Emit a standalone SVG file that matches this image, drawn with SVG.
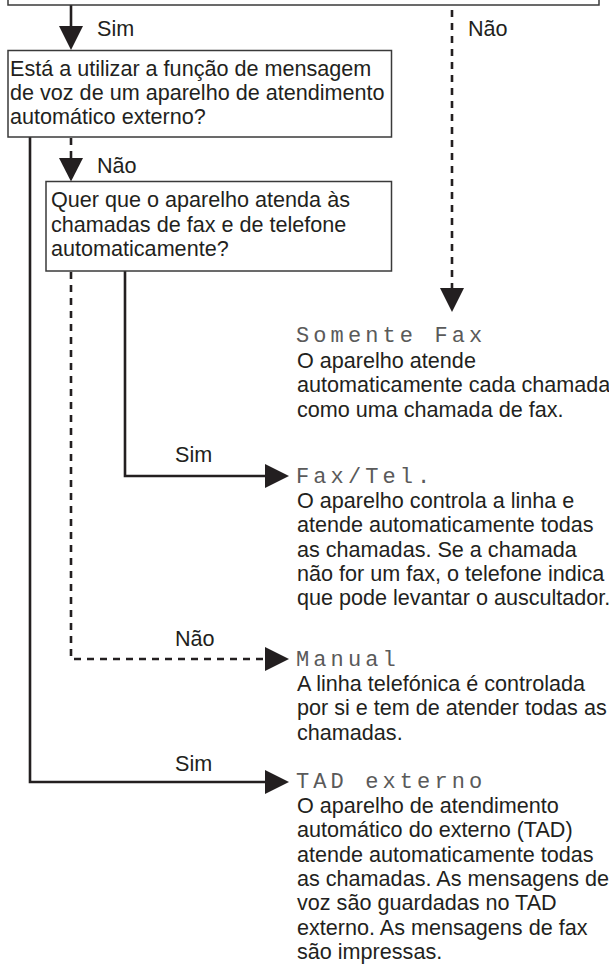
<svg xmlns="http://www.w3.org/2000/svg" width="609" height="974" viewBox="0 0 609 974">
<style>
.box{fill:#fff;stroke:#3a3a3a;stroke-width:1.5}
.ln{fill:none;stroke:#231f20;stroke-width:2.6}
.dash{fill:none;stroke:#231f20;stroke-width:2.6;stroke-dasharray:7 6}
.head{fill:#231f20}
.t{font-family:"Liberation Sans",Arial,Helvetica,sans-serif;font-size:21.6px;fill:#231f20}
.lcd{font-family:"Liberation Mono","DejaVu Sans Mono",monospace;font-size:22px;letter-spacing:4.1px;fill:#5a5a5a}
</style>
<rect width="609" height="974" fill="#fff"/>
<g id="connectors">
<line class="ln" x1="71" y1="5" x2="71" y2="28"/>
<polygon class="head" points="59,26 83,26 71,50"/>
<line class="dash" x1="452" y1="10" x2="452" y2="290"/>
<polygon class="head" points="440,288 464,288 452,312"/>
<line class="dash" x1="71" y1="138" x2="71" y2="160"/>
<polygon class="head" points="59,158 83,158 71,181.5"/>
<path class="ln" d="M125 271 V476 H267"/>
<polygon class="head" points="265,464 265,488 289,476"/>
<path class="dash" d="M71 272 V659 H267"/>
<polygon class="head" points="265,647 265,671 289,659"/>
<path class="ln" d="M30 137 V782 H267"/>
<polygon class="head" points="265,770 265,794 289,782"/>
<text class="t" x="97" y="36">Sim</text>
<text class="t" x="468" y="36">Não</text>
<text class="t" x="97" y="173">Não</text>
<text class="t" x="175" y="462">Sim</text>
<text class="t" x="175" y="646">Não</text>
<text class="t" x="175" y="771">Sim</text>
</g>
<g id="top-box">
<rect class="box" x="8" y="-10" width="591" height="15"/>
</g>
<g id="q1">
<rect class="box" x="8" y="50.5" width="383.5" height="86.5"/>
<text class="t" x="10" y="76">Está a utilizar a função de mensagem</text>
<text class="t" x="10" y="100">de voz de um aparelho de atendimento</text>
<text class="t" x="10" y="124">automático externo?</text>
</g>
<g id="q2">
<rect class="box" x="46" y="181.5" width="345.5" height="89.5"/>
<text class="t" x="51" y="207">Quer que o aparelho atenda às</text>
<text class="t" x="51" y="231.5">chamadas de fax e de telefone</text>
<text class="t" x="51" y="256">automaticamente?</text>
</g>
<g id="somente-fax">
<text class="lcd" x="296" y="342">Somente Fax</text>
<text class="t" x="297" y="368">O aparelho atende</text>
<text class="t" x="297" y="392.3">automaticamente cada chamada</text>
<text class="t" x="297" y="416.6">como uma chamada de fax.</text>
</g>
<g id="fax-tel">
<text class="lcd" x="296" y="482.5">Fax/Tel.</text>
<text class="t" x="297" y="508">O aparelho controla a linha e</text>
<text class="t" x="297" y="532.3">atende automaticamente todas</text>
<text class="t" x="297" y="556.6">as chamadas. Se a chamada</text>
<text class="t" x="297" y="580.9">não for um fax, o telefone indica</text>
<text class="t" x="297" y="605.2">que pode levantar o auscultador.</text>
</g>
<g id="manual">
<text class="lcd" x="296" y="665.5">Manual</text>
<text class="t" x="297" y="691">A linha telefónica é controlada</text>
<text class="t" x="297" y="715.3">por si e tem de atender todas as</text>
<text class="t" x="297" y="739.6">chamadas.</text>
</g>
<g id="tad-externo">
<text class="lcd" x="296" y="787.5">TAD externo</text>
<text class="t" x="297" y="813">O aparelho de atendimento</text>
<text class="t" x="297" y="837.3">automático do externo (TAD)</text>
<text class="t" x="297" y="861.6">atende automaticamente todas</text>
<text class="t" x="297" y="885.9">as chamadas. As mensagens de</text>
<text class="t" x="297" y="910.2">voz são guardadas no TAD</text>
<text class="t" x="297" y="934.5">externo. As mensagens de fax</text>
<text class="t" x="297" y="958.8">são impressas.</text>
</g>
</svg>
